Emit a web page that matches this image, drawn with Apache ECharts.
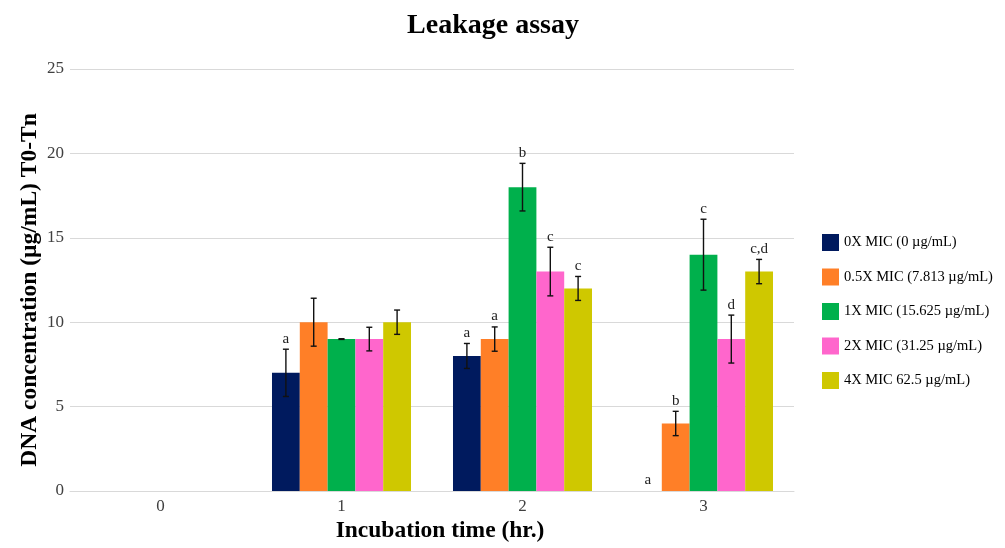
<!DOCTYPE html>
<html><head><meta charset="utf-8">
<script src="https://cdn.jsdelivr.net/npm/echarts@6/dist/echarts.min.js"></script>
<style>html,body{margin:0;padding:0;background:#fff}#c{width:1005px;height:548px}</style>
</head><body><div id="c"></div>
<script>
const categories = ['0','1','2','3'];
const seriesNames = ['0X MIC (0 µg/mL)','0.5X MIC (7.813 µg/mL)','1X MIC (15.625 µg/mL)','2X MIC (31.25 µg/mL)','4X MIC 62.5 µg/mL)'];
const colors = ['#001a5e','#ff7f27','#00b04c','#ff66cc','#cfc800'];
const values0X  = [0, 7, 8, 0];
const values05X = [0, 10, 9, 4];
const values1X  = [0, 9, 18, 14];
const values2X  = [0, 9, 13, 9];
const values4X  = [0, 10, 12, 13];
const err0X  = [0, 1.4, 0.74, 0];
const err05X = [0, 1.42, 0.72, 0.72];
const err1X  = [0, 0.02, 1.41, 2.1];
const err2X  = [0, 0.7, 1.44, 1.42];
const err4X  = [0, 0.72, 0.71, 0.72];
const letters0X  = ['', 'a', 'a', 'a'];
const letters05X = ['', '', 'a', 'b'];
const letters1X  = ['', '', 'b', 'c'];
const letters2X  = ['', '', 'c', 'd'];
const letters4X  = ['', '', 'c', 'c,d'];
const yTicks = [0, 5, 10, 15, 20, 25];

const allValues = [values0X, values05X, values1X, values2X, values4X];
const allErr = [err0X, err05X, err1X, err2X, err4X];
const allLetters = [letters0X, letters05X, letters1X, letters2X, letters4X];
const gapPct = 0.232;
const font = 'Liberation Serif';

const series = [];
allValues.forEach((vals, i) => {
  series.push({
    name: seriesNames[i], type: 'bar', data: vals,
    barGap: '0%', barCategoryGap: (gapPct*100)+'%',
    itemStyle: { color: colors[i] }, silent: true
  });
});
allValues.forEach((vals, i) => {
  const data = vals.map((v, j) => [j, v, allErr[i][j], allLetters[i][j]]);
  series.push({
    type: 'custom', silent: true, z: 10,
    data: data,
    encode: { x: 0, y: 1 },
    renderItem: function (params, api) {
      const j = api.value(0), v = api.value(1), e = api.value(2);
      const letter = data[params.dataIndex][3];
      const catW = api.size([1, 0])[0];
      const barW = catW * (1 - gapPct) / 5;
      const c = api.coord([j, v]);
      const x = c[0] + (i - 2) * barW;
      const top = api.coord([j, v + e])[1];
      const bot = api.coord([j, v - e])[1];
      const children = [];
      const st = { stroke: '#111', lineWidth: 1.4 };
      if (e > 0) {
        children.push({ type: 'line', shape: { x1: x, y1: top, x2: x, y2: bot }, style: st });
        children.push({ type: 'line', shape: { x1: x - 3, y1: top, x2: x + 3, y2: top }, style: st });
        children.push({ type: 'line', shape: { x1: x - 3, y1: bot, x2: x + 3, y2: bot }, style: st });
      }
      if (letter) {
        children.push({ type: 'text', style: { x: x, y: top - 3, text: letter, fill: '#222',
          font: '15px "' + font + '"', textAlign: 'center', textVerticalAlign: 'bottom' } });
      }
      return { type: 'group', children: children };
    }
  });
});

const chart = echarts.init(document.getElementById('c'));
chart.setOption({
  animation: false,
  textStyle: { fontFamily: font },
  title: { text: 'Leakage assay', left: 488, top: 7, textAlign: 'center',
    textStyle: { fontFamily: font, fontWeight: 'bold', fontSize: 28, color: '#000' } },
  legend: {
    orient: 'vertical', left: 817, top: 229, itemWidth: 17, itemHeight: 17, itemGap: 17.5,
    icon: 'rect', data: seriesNames, selectedMode: false,
    textStyle: { fontFamily: font, fontSize: 14.5, color: '#000', padding: [4, 0, 0, 0] }
  },
  grid: { left: 70, right: 211, top: 69, bottom: 57 },
  xAxis: {
    type: 'category', data: categories,
    name: 'Incubation time (hr.)', nameLocation: 'middle', nameGap: 28, nameMoveOverlap: false,
    nameTextStyle: { fontFamily: font, fontWeight: 'bold', fontSize: 23.5, color: '#000', padding: [0, 0, 0, 16] },
    axisLine: { lineStyle: { color: '#d9d9d9' } }, axisTick: { show: false },
    axisLabel: { fontFamily: font, fontSize: 17, color: '#404040', margin: 7 }
  },
  yAxis: {
    type: 'value', min: 0, max: 25, interval: 5,
    name: 'DNA concentration (µg/mL) T0-Tn', nameLocation: 'middle', nameGap: 28, nameMoveOverlap: false,
    nameTextStyle: { fontFamily: font, fontWeight: 'bold', fontSize: 23.5, color: '#000', padding: [0, 20, 0, 0] },
    axisLine: { show: false }, axisTick: { show: false },
    splitLine: { lineStyle: { color: '#d9d9d9' } },
    axisLabel: { fontFamily: font, fontSize: 17, color: '#404040', margin: 6,
      formatter: v => yTicks.includes(v) ? String(v) : '' }
  },
  series: series
});
</script></body></html>
